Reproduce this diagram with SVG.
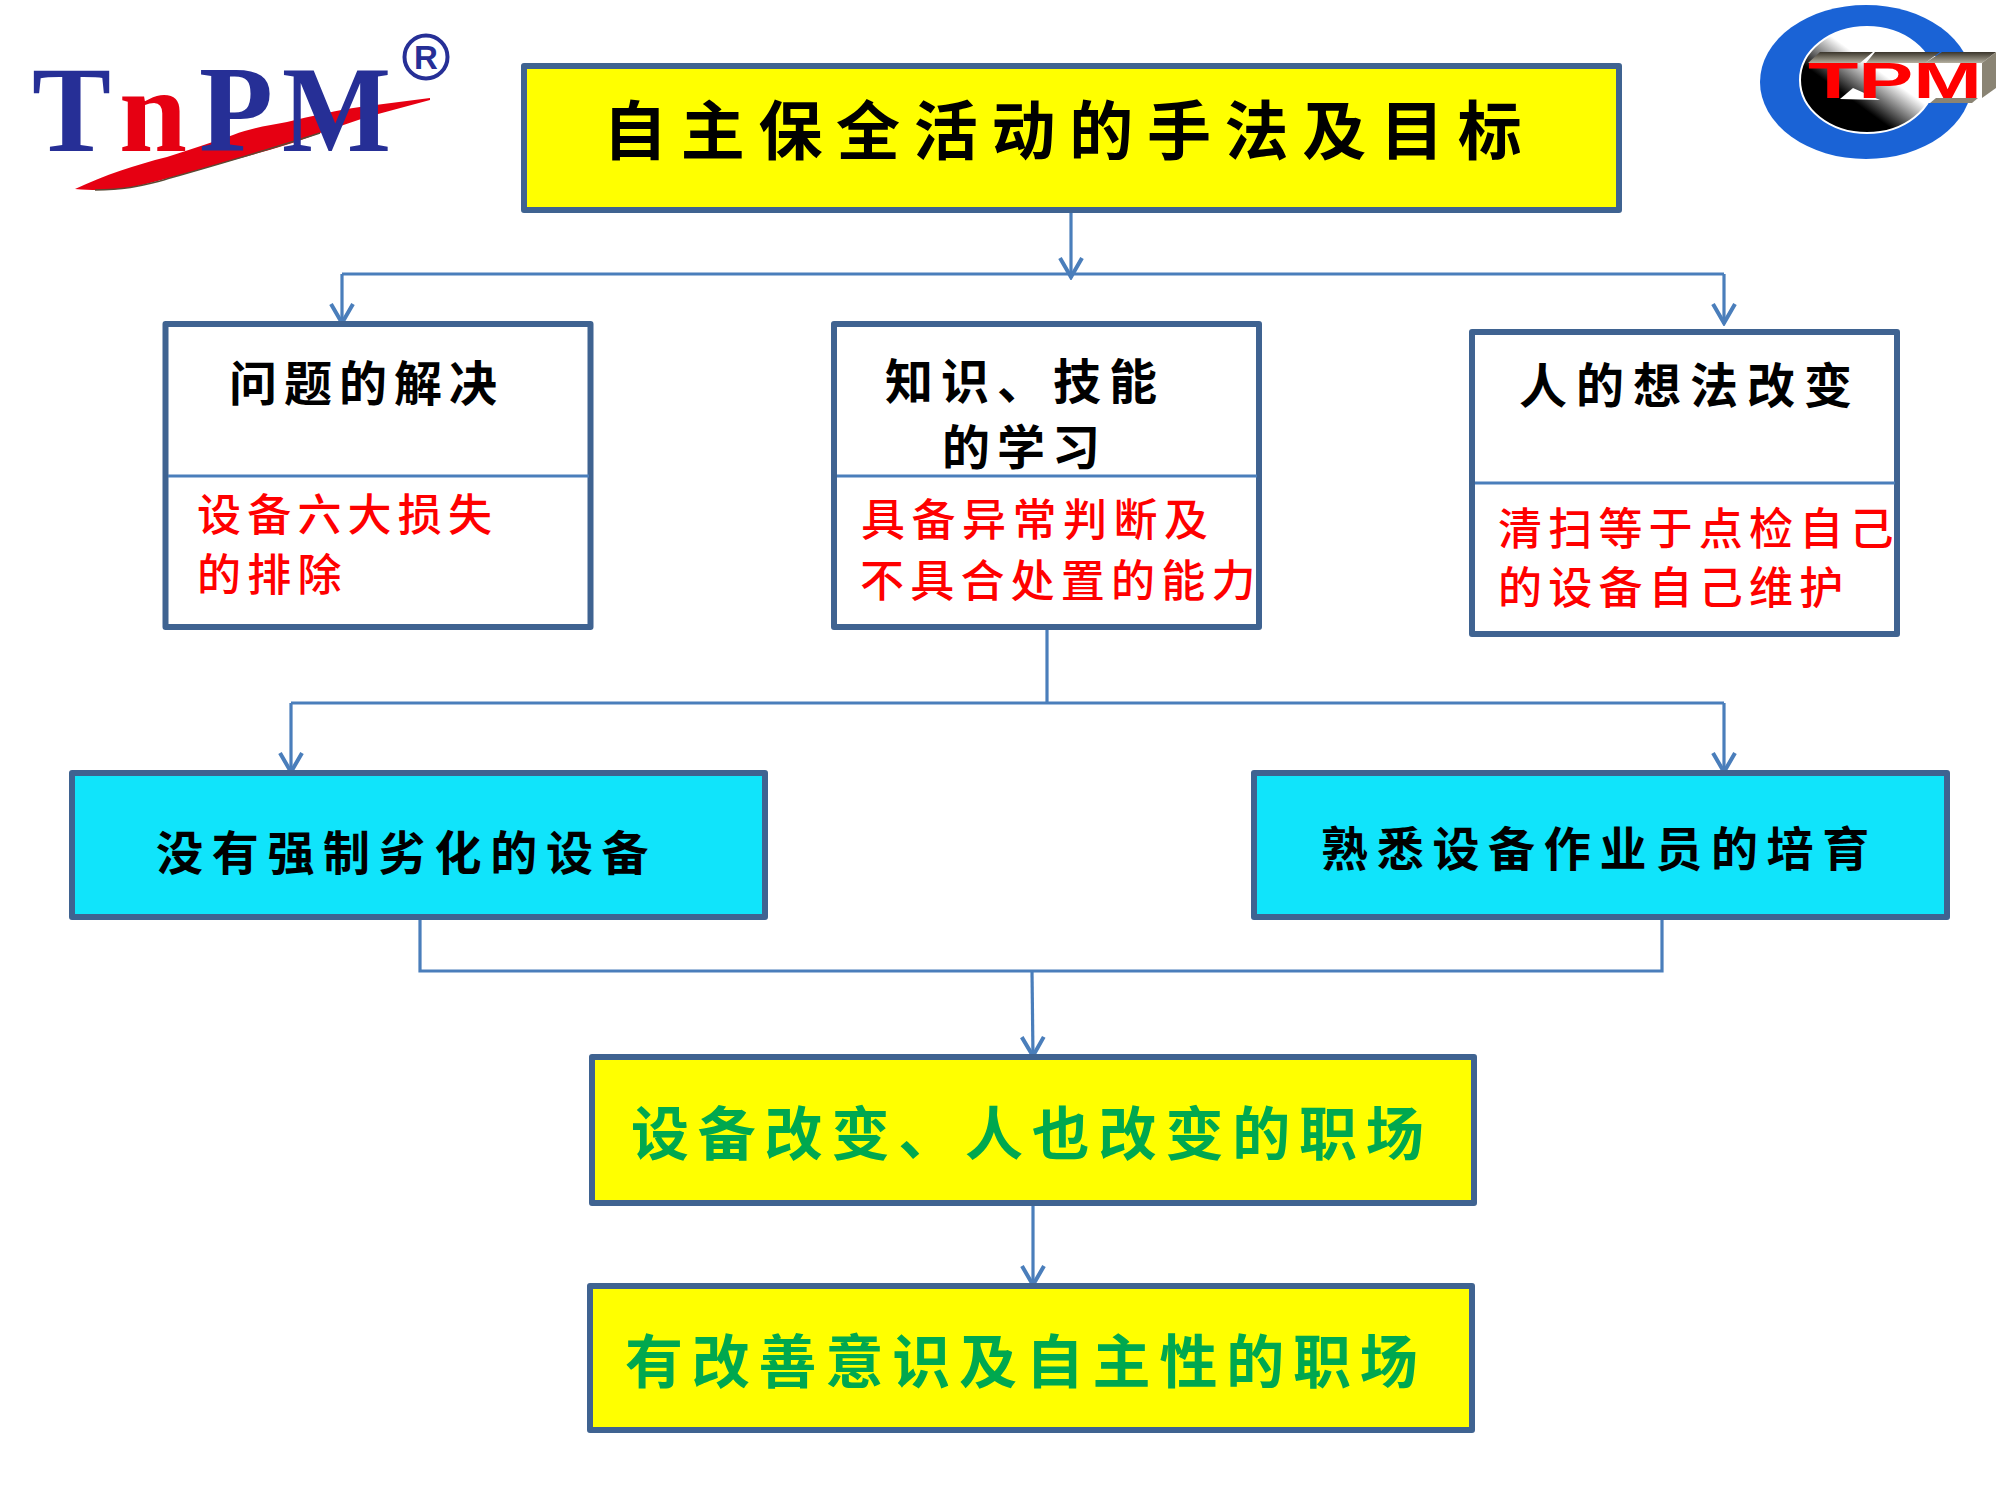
<svg xmlns="http://www.w3.org/2000/svg" width="2000" height="1500" viewBox="0 0 2000 1500">
<style>
.box{stroke:#3f6391;stroke-width:6;stroke-linejoin:round}
.w{fill:#fff}.y{fill:#ffff00}.c{fill:#10e4fb}
.div{stroke:#4a7ebb;stroke-width:3;fill:none}
.con{stroke:#4a7ebb;stroke-width:3.2;fill:none}
.t{font-family:"Noto Sans CJK SC","Liberation Sans",sans-serif;font-weight:700}
.title{font-size:64px;letter-spacing:13.7px;fill:#000}
.h{font-size:48px;letter-spacing:7px;fill:#000}
.r{font-size:44px;letter-spacing:6.2px;fill:#ff0000;font-weight:500}
.k{font-size:47px;letter-spacing:8.7px;fill:#000}
.g{font-size:58px;letter-spacing:8.8px;fill:#00a84f}
.logo{font-family:"Liberation Serif",serif;font-weight:700}
</style>
<defs>
<marker id="a" viewBox="0 0 24 26" refX="22" refY="13" markerWidth="24" markerHeight="26" markerUnits="userSpaceOnUse" orient="auto"><path d="M2 2 L21 13 L2 24" fill="none" stroke="#4a7ebb" stroke-width="4"/></marker>
<linearGradient id="ball" x1="0.2" y1="0.85" x2="0.75" y2="0.25"><stop offset="0.3" stop-color="#000"/><stop offset="0.72" stop-color="#fff"/></linearGradient>
<linearGradient id="ext" x1="0" y1="0" x2="0" y2="1"><stop offset="0" stop-color="#3a352b"/><stop offset="1" stop-color="#b5b0a0"/></linearGradient>
</defs>

<g id="connectors">
<path class="con" d="M1071 210V278" marker-end="url(#a)"/>
<path class="con" d="M342 274H1724"/>
<path class="con" d="M342 274V324" marker-end="url(#a)"/>
<path class="con" d="M1724 274V324" marker-end="url(#a)"/>
<path class="con" d="M1047 628V703"/>
<path class="con" d="M291 703H1724"/>
<path class="con" d="M291 703V773" marker-end="url(#a)"/>
<path class="con" d="M1724 703V773" marker-end="url(#a)"/>
<path class="con" d="M420 917V971H1662V917"/>
<path class="con" d="M1032 971L1033 1057" marker-end="url(#a)"/>
<path class="con" d="M1033 1203V1286" marker-end="url(#a)"/>
</g>

<g id="logo-tnpm">
<path d="M75 189C105 175 135 165 167 157C190 150 212 142 233 135C252 128 270 125 287 122C312 116 338 110 360 107L430 98L430 100L367 117L320 133C290 145 262 152 233 160C205 168 178 176 150 183C130 188 110 192 75 189Z" fill="#e60012"/>
<path d="M95 190C125 190 140 186 160 181C205 168 262 152 320 133" fill="none" stroke="#5a4a35" stroke-width="1.5"/>
<text class="logo" x="32" y="151" font-size="122" fill="#262f96" textLength="79" lengthAdjust="spacingAndGlyphs">T</text>
<text class="logo" x="119" y="151" font-size="118" fill="#e60012" textLength="68" lengthAdjust="spacingAndGlyphs">n</text>
<text class="logo" x="199" y="151" font-size="122" fill="#262f96" textLength="74" lengthAdjust="spacingAndGlyphs">P</text>
<text class="logo" x="282" y="151" font-size="122" fill="#262f96" textLength="109" lengthAdjust="spacingAndGlyphs">M</text>
<circle cx="426" cy="57" r="21.5" fill="none" stroke="#262f96" stroke-width="4"/>
<text x="426" y="69" text-anchor="middle" font-family="Liberation Sans,sans-serif" font-weight="700" font-size="33" fill="#262f96">R</text>
</g>

<g id="logo-tpm">
<ellipse cx="1866" cy="82" rx="106" ry="77" fill="#1a63d6"/>
<ellipse cx="1867" cy="80" rx="67" ry="53" fill="url(#ball)" stroke="#fff" stroke-width="2"/>
<path d="M1925 56H1980V103H1925Z" fill="#fff"/>
<path d="M1840 99L1853 88L1880 100Z" fill="#fff"/>
<path d="M1820 52H1873L1860 63H1808Z M1875 52H1940L1925 63H1866Z M1942 52H1996L1982 63H1925Z" fill="url(#ext)"/>
<path d="M1996 52V88L1982 98V63Z" fill="#8a8474"/>
<path d="M1930 103H1972L1978 98H1936Z" fill="#8a8474"/>
<text x="1808" y="98" font-family="Liberation Sans,sans-serif" font-weight="700" font-size="50" fill="#f00" textLength="174" lengthAdjust="spacingAndGlyphs">TPM</text>
</g>

<g id="n-title">
<rect class="box y" x="524" y="66" width="1095" height="144"/>
<text class="t title" x="603" y="154">自主保全活动的手法及目标</text>
</g>

<g id="n-problem">
<rect class="box w" x="165.5" y="324" width="425" height="303"/>
<path class="div" d="M168 476H589"/>
<text class="t h" x="229" y="401">问题的解决</text>
<text class="t r" x="197" y="531">设备六大损失</text>
<text class="t r" x="197" y="591">的排除</text>
</g>

<g id="n-skill">
<rect class="box w" x="834" y="324" width="425" height="303"/>
<path class="div" d="M837 476H1257"/>
<text class="t h" x="885" y="399" style="letter-spacing:8px">知识、技能</text>
<text class="t h" x="942" y="465">的学习</text>
<text class="t r" x="861" y="536" style="letter-spacing:6.5px">具备异常判断及</text>
<text class="t r" x="860" y="597">不具合处置的能力</text>
</g>

<g id="n-mind">
<rect class="box w" x="1472" y="332" width="425" height="302"/>
<path class="div" d="M1475 483H1895"/>
<text class="t h" x="1519" y="403" style="letter-spacing:9px">人的想法改变</text>
<text class="t r" x="1498" y="545">清扫等于点检自己</text>
<text class="t r" x="1498" y="604">的设备自己维护</text>
</g>

<g id="n-equipment">
<rect class="box c" x="72" y="773" width="693" height="144"/>
<text class="t k" x="156" y="870">没有强制劣化的设备</text>
</g>

<g id="n-operator">
<rect class="box c" x="1254" y="773" width="693" height="144"/>
<text class="t k" x="1321" y="866">熟悉设备作业员的培育</text>
</g>

<g id="n-workplace1">
<rect class="box y" x="592" y="1057" width="882" height="146"/>
<text class="t g" x="631" y="1155">设备改变、人也改变的职场</text>
</g>

<g id="n-workplace2">
<rect class="box y" x="590" y="1286" width="882" height="144"/>
<text class="t g" x="625" y="1383">有改善意识及自主性的职场</text>
</g>
</svg>
